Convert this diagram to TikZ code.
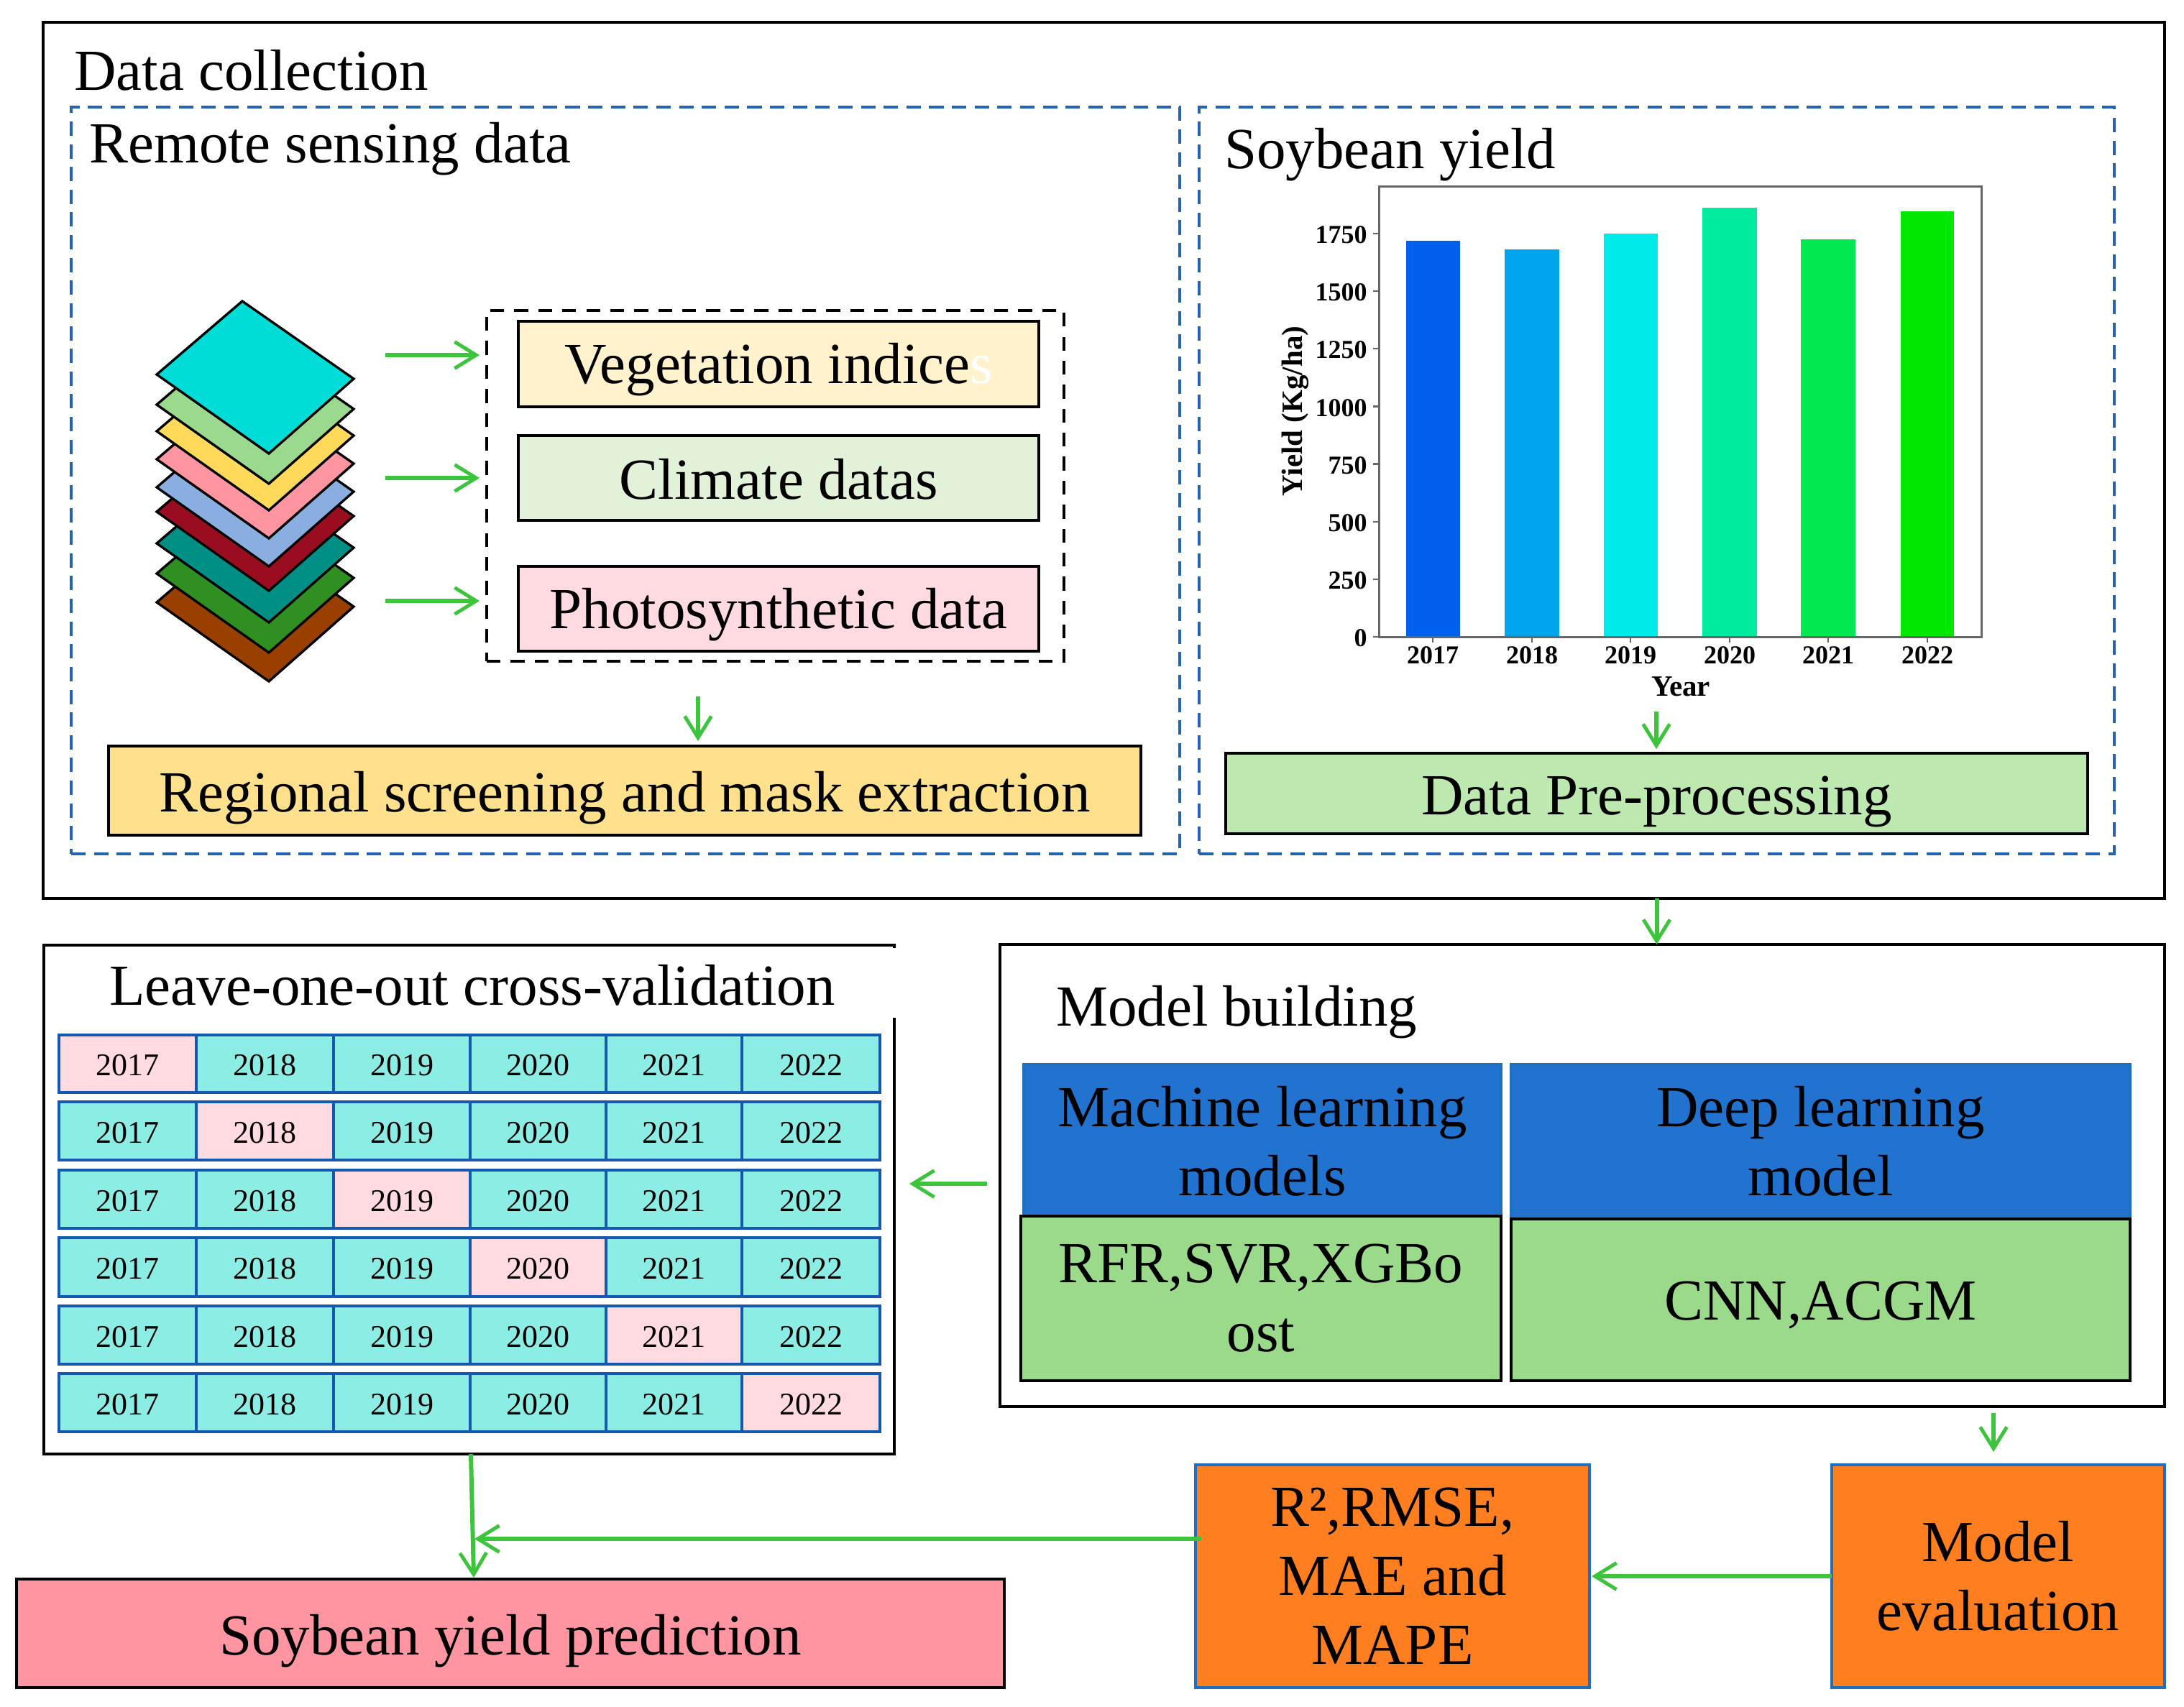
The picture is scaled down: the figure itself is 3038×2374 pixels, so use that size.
\documentclass[tikz,border=0pt]{standalone}
\usepackage{fontspec}
\setmainfont{Liberation Serif}
\usetikzlibrary{arrows.meta,calc}
\definecolor{garrow}{HTML}{3DC43D}
\definecolor{bdash}{HTML}{2563AE}
\definecolor{bline}{HTML}{1F6FC0}
\definecolor{rowline}{HTML}{1558B0}
\definecolor{cellc}{HTML}{8CEDE5}
\definecolor{cellp}{HTML}{FFDAE0}
\definecolor{blueh}{HTML}{2272D0}
\definecolor{greenb}{HTML}{9BD98B}
\definecolor{orangeb}{HTML}{FF7F20}
\definecolor{vegc}{HTML}{FFF2CC}
\definecolor{clic}{HTML}{E2F2D9}
\definecolor{regc}{HTML}{FFE08C}
\definecolor{ppc}{HTML}{BDE8B0}
\definecolor{predc}{HTML}{FF95A0}
\newcommand\fpx[2]{\fontsize{\the\dimexpr0.569pt*#1\relax}{\the\dimexpr0.569pt*#2\relax}\selectfont}
\newcommand\bx[7]{\node[panelbox,#6,minimum width={(#4-#2)*0.02cm},minimum height={(#5-#3)*0.02cm}] (#1) at ({(#2+#4)/2},{(#3+#5)/2}) {#7};}
\tikzset{
 panelbox/.style={draw,rectangle,inner sep=0pt,outer sep=0pt,align=center,line width=2.4pt},
 arr/.style={-{Straight Barb[length=17pt,width=21pt,line width=2.8pt]},draw=garrow,line width=3.4pt},
 dashblue/.style={draw=bdash,line width=2.4pt,dash pattern=on 11.4pt off 6.6pt},
 big/.style={font=\fpx{81.5}{96}},
 oneline/.style={font=\fpx{81}{96},text height=34pt,text depth=0pt},
 yearcell/.style={draw=rowline,line width=1.8pt,font=\fpx{44}{50},text=black,text height=19pt,text depth=0pt},
 tick/.style={draw=black!60,line width=1.5pt},
 axlab/.style={font=\fpx{36}{40}\bfseries,inner sep=0pt},
 orangebox/.style={fill=orangeb,draw=bline,line width=2.2pt,big},
}
\begin{document}
\begin{tikzpicture}[x=0.02cm,y=-0.02cm]
\path[use as bounding box,fill=white] (0,0) rectangle (3038,2374);
% Data collection
\bx{dc}{60}{31}{3011}{1250}{fill=white}{}
\node[anchor=base west,inner sep=0pt,font=\fpx{81}{90}] (dct) at (103,125) {Data collection};
\bx{rs}{99}{149}{1641}{1188}{dashblue}{}
\bx{sy}{1668}{149}{2941}{1188}{dashblue}{}
\node[anchor=base west,inner sep=0pt,font=\fpx{81}{90}] (rst) at (124,226) {Remote sensing data};
\node[anchor=base west,inner sep=0pt,font=\fpx{81}{90}] (syt) at (1703,234) {Soybean yield};
% diamonds
\foreach \bt/\c in {948/994000,908/2F8F20,866/008F85,822/9A0D20,788/8AAEE0,749/FF95A0,710/FFD95A,673/9BD98E,631/00DCD8}{
 \definecolor{lay}{HTML}{\c}
 \draw[fill=lay,line width=1.9pt,line join=miter] (337,\bt-212) -- (492,\bt-104) -- (374,\bt) -- (218,\bt-110) -- cycle;
}
% dashed group
\bx{grp}{677}{432}{1480}{920}{draw=black,line width=2.2pt,dash pattern=on 11pt off 8pt}{}
\bx{veg}{721}{447}{1445}{566}{fill=vegc,oneline,text height=31pt}{Vegetation indice\textcolor{white}{s}}
\bx{cli}{721}{606}{1445}{724}{fill=clic,oneline}{Climate datas}
\bx{pho}{721}{788}{1445}{906}{fill=cellp,oneline,text height=31pt}{Photosynthetic data}
\coordinate (a1s) at (536,494); \coordinate (a1e) at (667,494);
\coordinate (a2s) at (536,665); \coordinate (a2e) at (667,665);
\coordinate (a3s) at (536,836); \coordinate (a3e) at (667,836);
\draw[arr] (a1s) -- (a1e);
\draw[arr] (a2s) -- (a2e);
\draw[arr] (a3s) -- (a3e);
\bx{reg}{151}{1038}{1587}{1162}{fill=regc,oneline}{Regional screening and mask extraction}
\coordinate (a4s) at (971,969); \coordinate (a4e) at (971,1031);
\draw[arr] (a4s) -- (a4e);
\bx{pp}{1705}{1048}{2904}{1160}{fill=ppc,oneline,text height=33pt}{Data Pre-processing}
\coordinate (a5s) at (2304,990); \coordinate (a5e) at (2304,1042);
\draw[arr] (a5s) -- (a5e);
% chart
\foreach \xa/\xb/\yt/\c in {1956/2031/335/0060EE,2093/2169/346.5/00A5EE,2231/2306/325/00EAEA,2368/2444/289/00EBA0,2505/2581/333/00E850,2644/2718/294/00E800}{
 \definecolor{barc}{HTML}{\c}
 \fill[barc] (\xa,\yt) rectangle (\xb,886);
}
\draw[draw=black!60,line width=1.7pt] (1918,259) rectangle (2756,886);
\foreach \v/\yy in {0/886,250/806,500/726,750/645.5,1000/565.5,1250/485,1500/405,1750/325}{
 \draw[tick] (1910,\yy) -- (1918,\yy);
 \node[axlab,anchor=east] (yl\v) at (1902,\yy+2) {\v};
}
\foreach \yr/\xx in {2017/1993,2018/2131,2019/2268,2020/2406,2021/2543,2022/2681}{
 \draw[tick] (\xx,886) -- (\xx,894);
 \node[axlab] (xl\yr) at (\xx,912) {\yr};
}
\node[axlab,font=\fpx{41}{44}\bfseries] (yeart) at (2338,955) {Year};
\node[axlab,font=\fpx{41.5}{44}\bfseries,rotate=90] (yieldt) at (1802,572) {Yield (Kg/ha)};
% LOO
\bx{loo}{61}{1315}{1244}{2023}{fill=white}{}
\fill[white] (1240,1319) rectangle (1248,1416);
\node[font=\fpx{81}{90},inner sep=0pt] (loot) at (657,1371) {Leave-one-out cross-validation};
\foreach \r/\ya/\yb in {1/1440/1520,2/1533/1614,3/1628/1709,4/1722/1804,5/1817/1898,6/1911/1992}{
 \foreach \k/\xa/\xb/\yr in {1/82/273/2017,2/273/464/2018,3/464/654/2019,4/654/843/2020,5/843/1032/2021,6/1032/1224/2022}{
  \ifnum\r=\k \def\cf{cellp}\else\def\cf{cellc}\fi
  \bx{c\r\k}{\xa}{\ya}{\xb}{\yb}{yearcell,fill=\cf}{\yr}
 }
}
% model building
\bx{mb}{1391}{1314}{3011}{1957}{fill=white}{}
\node[anchor=west,inner sep=0pt,font=\fpx{81}{90}] (mbt) at (1469,1408) {Model building};
\bx{ml}{1424}{1481}{2088}{1694}{fill=blueh,draw=bline,big}{Machine learning\\models}
\bx{dl}{2102}{1481}{2963}{1694}{fill=blueh,draw=bline,big}{Deep learning\\model}
\bx{mg}{1420}{1692}{2088}{1921}{fill=greenb,big}{RFR,SVR,XGBo\\ost}
\bx{dg}{2102}{1696}{2963}{1921}{fill=greenb,oneline,text height=32pt}{CNN,ACGM}
% bottom
\bx{r2}{1663}{2038}{2211}{2348}{orangebox}{R²,RMSE,\\MAE and\\MAPE}
\bx{me}{2548}{2038}{3011}{2348}{orangebox}{Model\\evaluation}
\bx{pred}{23}{2197}{1397}{2348}{fill=predc,oneline}{Soybean yield prediction}
% connectors
\draw[arr] (dc.south -| pp.south) -- (mb.north -| pp.south);
\coordinate (mbl) at (1373,1647); \coordinate (looe) at (1265,1647);
\draw[arr] (mbl) -- (looe);
\coordinate (mbd) at (2773,1966); \coordinate (med) at (2773,2020);
\draw[arr] (mbd) -- (med);
\coordinate (r2e) at (2214,2193);
\draw[arr] (me.west) -- (r2e);
\coordinate (loos) at (655,2023); \coordinate (predn) at (659,2195);
\draw[arr] (loos) -- (predn);
\coordinate (r2w) at (1671,2141); \coordinate (jn) at (660,2141);
\draw[arr] (r2w) -- (jn);
\end{tikzpicture}
\end{document}
